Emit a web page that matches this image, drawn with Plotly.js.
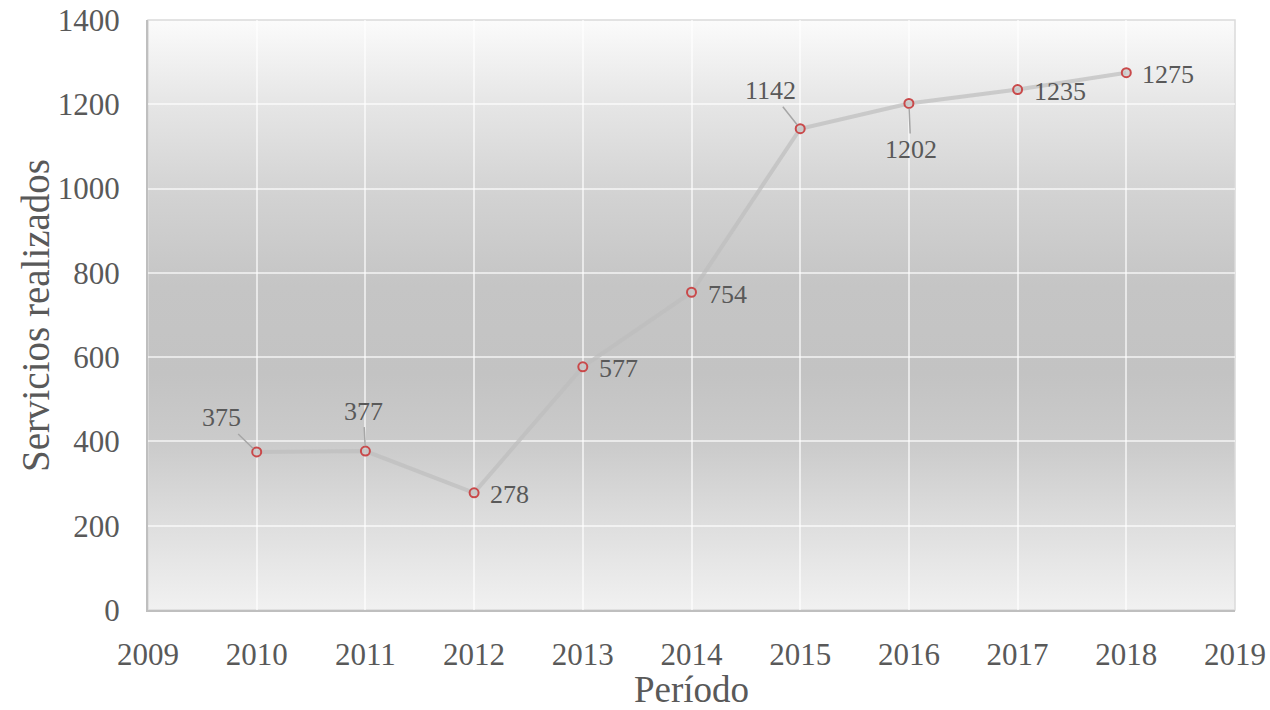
<!DOCTYPE html>
<html>
<head>
<meta charset="utf-8">
<script src="https://cdn.plot.ly/plotly-3.0.1.min.js"></script>
<style>
  html, body { margin: 0; padding: 0; background: #ffffff; }
  #wrap { position: relative; width: 1270px; height: 710px; }
  #bg { position: absolute; left: 148px; top: 20px; width: 1087px; height: 590px;
        background: linear-gradient(to bottom, #fbfbfb 0%, #e6e6e6 14%, #d2d2d2 30%, #c5c5c5 45%, #c3c3c3 60%, #cbcbcb 72%, #dcdcdc 84%, #f1f1f1 100%); }
  #chart { position: absolute; left: 0; top: 0; width: 1270px; height: 710px; }
</style>
</head>
<body>
<div id="wrap">
  <div id="bg"></div>
  <div id="chart"></div>
</div>
<script>
const years = [2010, 2011, 2012, 2013, 2014, 2015, 2016, 2017, 2018];
const servicios = [375, 377, 278, 577, 754, 1142, 1202, 1235, 1275];
const xTickVals = [2009, 2010, 2011, 2012, 2013, 2014, 2015, 2016, 2017, 2018, 2019];
const yTickVals = [0, 200, 400, 600, 800, 1000, 1200, 1400];
const yTitle = 'Servicios realizados';
const xTitle = 'Período';

// label placement style per point (leader line offsets in px; null = label to the right)
const labelOffsets = [[-35, -34], [-2, -40], null, null, null, [-30, -38], [2, 46], null, null];

const textColor = '#595959';
const fontFam = '"Liberation Serif", "DejaVu Serif", serif';

const traces = [
  {
    x: years, y: servicios, type: 'scatter', mode: 'lines+markers',
    line: { color: 'rgba(190,190,190,0.7)', width: 4 },
    marker: { symbol: 'circle', size: 9, color: 'rgba(200,200,200,0.7)',
              line: { color: '#c9494a', width: 2 } },
    showlegend: false
  }
];

const annotations = years.map((yr, i) => {
  const off = labelOffsets[i];
  const base = {
    x: yr, y: servicios[i], xref: 'x', yref: 'y',
    text: String(servicios[i]),
    font: { family: fontFam, size: 26, color: textColor }
  };
  if (off) {
    return Object.assign(base, {
      showarrow: true, arrowhead: 0, arrowwidth: 1.5, arrowcolor: '#a6a6a6',
      ax: off[0], ay: off[1], standoff: 5
    });
  }
  return Object.assign(base, { showarrow: false, xanchor: 'left', xshift: 14, yshift: -2 });
});

// y-axis title as a rotated annotation (for exact placement)
annotations.push({
  xref: 'paper', yref: 'paper', x: -0.104, y: 0.5, xanchor: 'center', yanchor: 'middle',
  text: yTitle, textangle: -90, showarrow: false,
  font: { family: fontFam, size: 39, color: textColor }
});

const layout = {
  width: 1270, height: 710,
  margin: { l: 148, r: 35, t: 20, b: 100 },
  paper_bgcolor: 'rgba(0,0,0,0)',
  plot_bgcolor: 'rgba(0,0,0,0)',
  font: { family: fontFam, color: textColor },
  xaxis: {
    range: [2009, 2019], tickvals: xTickVals, ticktext: xTickVals.map(String),
    showgrid: true, gridcolor: 'rgba(255,255,255,0.6)', gridwidth: 2,
    zeroline: false, showline: true, linecolor: '#bfbfbf', linewidth: 2, mirror: false,
    ticks: 'outside', ticklen: 16, tickcolor: 'rgba(0,0,0,0)',
    tickfont: { family: fontFam, size: 31, color: textColor },
    title: { text: xTitle, font: { family: fontFam, size: 37, color: textColor }, standoff: 8 }
  },
  yaxis: {
    range: [0, 1400], tickvals: yTickVals, ticktext: yTickVals.map(String),
    showgrid: true, gridcolor: 'rgba(255,255,255,0.6)', gridwidth: 2,
    zeroline: false, showline: true, linecolor: '#bfbfbf', linewidth: 2, mirror: false,
    ticks: 'outside', ticklen: 20, tickcolor: 'rgba(0,0,0,0)',
    tickfont: { family: fontFam, size: 31, color: textColor }
  },
  shapes: [
    { type: 'rect', xref: 'paper', yref: 'paper', x0: 0, x1: 1, y0: 0, y1: 1,
      line: { color: '#dadada', width: 1.5 }, fillcolor: 'rgba(0,0,0,0)', layer: 'below' }
  ],
  annotations: annotations
};

Plotly.newPlot('chart', traces, layout, { displayModeBar: false, staticPlot: true });
</script>
</body>
</html>
